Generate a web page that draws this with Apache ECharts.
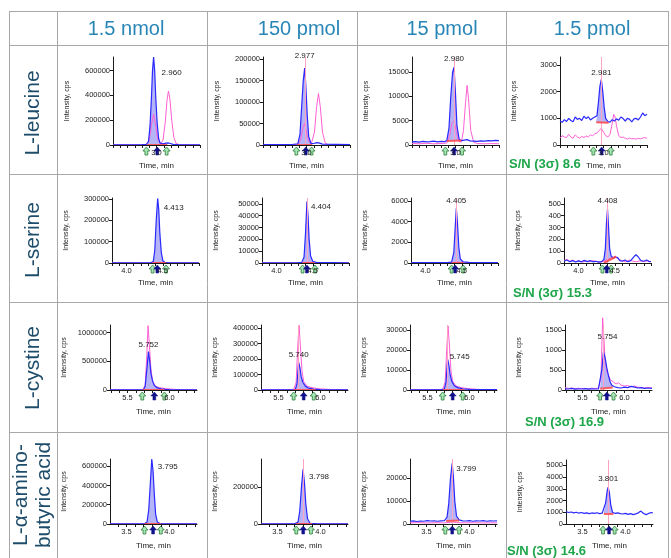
<!DOCTYPE html>
<html><head><meta charset="utf-8">
<script src="https://cdn.jsdelivr.net/npm/echarts@6/dist/echarts.min.js"></script>
<style>html,body{margin:0;padding:0;background:#fff}#c{width:671px;height:558px}</style>
</head><body><div id="c"></div>
<script>
// ---------------- DATA ----------------
const colHeaders = ['1.5 nmol', '150 pmol', '15 pmol', '1.5 pmol'];
const rowLabels = [['L-leucine'], ['L-serine'], ['L-cystine'], ['L-α-amino-', 'butyric acid']];
const snTexts = ['S/N (3σ) 8.6', 'S/N (3σ) 15.3', 'S/N (3σ) 16.9', 'S/N (3σ) 14.6'];

// L-leucine
const leuXRange = [2.4, 3.6];
const leuXTicks = [2.4, 2.5, 2.6, 2.7, 2.8, 2.9, 3.0, 3.1, 3.2, 3.3, 3.4, 3.5, 3.6];
const leuXLabels = [3.0];
const leuYMax = [710000, 205000, 18100, 3300];
const leuYTicks = [[0, 200000, 400000, 600000], [0, 50000, 100000, 150000, 200000], [0, 5000, 10000, 15000], [0, 1000, 2000, 3000]];
const leuRT = ['2.960', '2.977', '2.980', '2.981'];
const leuInt = [[2.87, 3.15, 2000, 2000], [2.87, 3.08, 1000, 1000], [2.88, 3.08, 800, 900], [2.90, 3.07, 850, 830]];
const leuArrows = [[2.86, 3.14, 3.01], [2.86, 3.07, 2.99], [2.86, 3.09, 2.98], [2.86, 3.10, 2.975]];
const leu1Blue = [[2.40,2000],[2.60,2000],[2.80,2500],[2.86,4000],[2.89,30000],[2.91,150000],[2.93,380000],[2.945,600000],[2.96,710000],[2.975,600000],[2.99,380000],[3.01,170000],[3.03,50000],[3.05,15000],[3.09,9000],[3.13,15000],[3.16,17000],[3.19,12000],[3.23,5000],[3.30,2500],[3.60,2000]];
const leu1Pink = [[2.40,1000],[2.86,1500],[2.90,40000],[2.93,160000],[2.96,250000],[2.99,150000],[3.02,40000],[3.06,10000],[3.09,40000],[3.12,180000],[3.145,360000],[3.165,436000],[3.185,370000],[3.21,200000],[3.24,60000],[3.27,12000],[3.32,2000],[3.60,1000]];
const leu2Blue = [[2.40,1000],[2.80,1200],[2.88,2500],[2.91,25000],[2.93,80000],[2.955,150000],[2.975,179000],[2.99,140000],[3.01,70000],[3.03,20000],[3.06,4000],[3.10,3500],[3.14,5500],[3.17,5000],[3.22,2000],[3.60,1000]];
const leu2Pink = [[2.40,500],[2.88,800],[2.92,12000],[2.95,40000],[2.975,50000],[3.00,30000],[3.03,8000],[3.07,5000],[3.11,30000],[3.14,90000],[3.165,120000],[3.19,90000],[3.22,30000],[3.26,4000],[3.30,800],[3.60,500]];
const leu3Blue = [[2.40,650],[2.45,700],[2.50,600],[2.55,750],[2.60,650],[2.65,700],[2.70,800],[2.75,650],[2.80,750],[2.85,700],[2.88,900],[2.91,3500],[2.935,10000],[2.96,15000],[2.98,16000],[3.00,10500],[3.02,4000],[3.05,1200],[3.08,900],[3.12,1000],[3.16,1100],[3.20,850],[3.25,800],[3.30,750],[3.35,850],[3.40,800],[3.45,900],[3.50,850],[3.55,950],[3.60,900]];
const leu3Pink = [[2.40,300],[2.50,250],[2.60,350],[2.70,250],[2.80,300],[2.88,400],[2.92,2000],[2.95,4500],[2.98,5000],[3.01,3000],[3.04,800],[3.08,600],[3.11,3000],[3.14,9000],[3.16,12250],[3.18,9500],[3.21,3000],[3.25,600],[3.30,300],[3.40,250],[3.50,300],[3.60,250]];
const leu4Blue = [[2.40,900],[2.43,850],[2.46,950],[2.49,880],[2.52,1000],[2.55,920],[2.58,870],[2.61,1050],[2.64,960],[2.67,1000],[2.70,920],[2.73,1080],[2.76,990],[2.79,1060],[2.82,940],[2.85,1000],[2.88,1050],[2.91,1100],[2.93,1600],[2.95,2200],[2.97,2460],[2.99,2000],[3.01,1400],[3.03,1000],[3.06,880],[3.09,860],[3.12,950],[3.15,900],[3.18,980],[3.21,930],[3.24,1050],[3.27,990],[3.30,900],[3.33,1000],[3.36,960],[3.39,870],[3.42,980],[3.45,1000],[3.48,940],[3.51,1050],[3.54,1200],[3.57,1100],[3.60,1150]];
const leu4Pink = [[2.40,250],[2.43,350],[2.46,300],[2.49,280],[2.52,400],[2.55,300],[2.58,250],[2.61,380],[2.64,300],[2.67,260],[2.70,320],[2.73,280],[2.76,340],[2.79,300],[2.82,380],[2.85,350],[2.88,420],[2.91,450],[2.94,550],[2.97,620],[3.00,480],[3.03,350],[3.06,300],[3.09,400],[3.12,800],[3.14,1150],[3.16,1050],[3.18,700],[3.21,350],[3.24,280],[3.27,300],[3.30,250],[3.33,220],[3.36,260],[3.39,230],[3.42,240],[3.45,220],[3.48,250],[3.51,230],[3.54,260],[3.57,280],[3.60,250]];

// L-serine
const serXRange = [3.8, 5.0];
const serXTicks = [3.8, 3.9, 4.0, 4.1, 4.2, 4.3, 4.4, 4.5, 4.6, 4.7, 4.8, 4.9, 5.0];
const serXLabels = [4.0, 4.5];
const serYMax = [305000, 55000, 6300, 550];
const serYTicks = [[0, 100000, 200000, 300000], [0, 10000, 20000, 30000, 40000, 50000], [0, 2000, 4000, 6000], [0, 100, 200, 300, 400, 500]];
const serRT = ['4.413', '4.404', '4.405', '4.408'];
const serInt = [[4.36, 4.55, 800, 800], [4.36, 4.52, 300, 300], [4.36, 4.52, 40, 60], [4.35, 4.52, 0, 55]];
const serArrows = [[4.36, 4.545, 4.425], [4.36, 4.53, 4.42], [4.36, 4.52, 4.41], [4.33, 4.45, 4.39]];
const ser1Blue = [[3.80,800],[4.20,800],[4.34,1000],[4.37,8000],[4.39,60000],[4.41,200000],[4.43,303000],[4.445,250000],[4.46,140000],[4.48,50000],[4.50,12000],[4.53,3000],[4.58,1200],[5.00,800]];
const ser1Pink = [[3.80,300],[4.38,400],[4.42,3000],[4.46,1500],[4.52,400],[5.00,300]];
const ser2Blue = [[3.80,200],[4.30,300],[4.35,600],[4.38,5000],[4.40,25000],[4.42,52000],[4.435,40000],[4.45,20000],[4.47,6000],[4.50,1500],[4.55,500],[5.00,200]];
const ser2Pink = [[3.80,100],[4.40,300],[4.43,1000],[4.47,300],[5.00,100]];
const ser3Blue = [[3.80,30],[4.30,40],[4.36,80],[4.39,1000],[4.41,3500],[4.425,5300],[4.44,4000],[4.46,1500],[4.48,400],[4.52,100],[4.60,60],[5.00,40]];
const ser3Pink = [[3.80,20],[4.40,40],[4.43,150],[4.47,40],[5.00,20]];
const ser4Blue = [[3.80,15],[3.84,25],[3.88,10],[3.92,20],[3.96,8],[4.00,18],[4.04,10],[4.08,22],[4.12,12],[4.16,20],[4.20,10],[4.24,15],[4.28,8],[4.32,12],[4.35,30],[4.37,120],[4.385,330],[4.40,457],[4.415,300],[4.43,120],[4.45,60],[4.48,40],[4.51,50],[4.54,45],[4.57,20],[4.60,15],[4.64,25],[4.68,10],[4.72,20],[4.76,50],[4.79,70],[4.82,55],[4.86,20],[4.90,15],[4.94,25],[4.98,10],[5.00,15]];
const ser4Pink = [[3.80,20],[3.84,30],[3.88,15],[3.92,25],[3.96,10],[4.00,20],[4.05,8],[4.10,15],[4.15,10],[4.20,20],[4.25,12],[4.30,8],[4.35,15],[4.40,30],[4.45,40],[4.50,55],[4.55,35],[4.60,20],[4.65,10],[4.70,25],[4.75,15],[4.80,10],[4.85,20],[4.90,12],[4.95,18],[5.00,10]];

// L-cystine
const cysXRange = [5.29, 6.33];
const cysXTicks = [5.3, 5.4, 5.5, 5.6, 5.7, 5.8, 5.9, 6.0, 6.1, 6.2, 6.3];
const cysXLabels = [5.5, 6.0];
const cysYMax = [1130000, 420000, 32500, 1620];
const cysYTicks = [[0, 500000, 1000000], [0, 100000, 200000, 300000, 400000], [0, 10000, 20000, 30000], [0, 500, 1000, 1500]];
const cysRT = ['5.752', '5.740', '5.745', '5.754'];
const cysInt = [[5.68, 5.94, 2000, 2000], [5.68, 5.94, 1000, 1000], [5.68, 5.94, 150, 150], [5.71, 5.86, 30, 60]];
const cysArrows = [[5.676, 5.94, 5.82], [5.68, 5.92, 5.80], [5.68, 5.92, 5.80], [5.71, 5.87, 5.79]];
const cys1Blue = [[5.29,2000],[5.65,2000],[5.69,5000],[5.71,60000],[5.73,350000],[5.75,667000],[5.765,500000],[5.78,280000],[5.80,150000],[5.82,80000],[5.85,40000],[5.90,20000],[5.95,10000],[6.00,5000],[6.33,2000]];
const cys1Pink = [[5.29,2000],[5.68,3000],[5.71,80000],[5.73,600000],[5.745,1120000],[5.76,800000],[5.78,350000],[5.80,150000],[5.83,70000],[5.88,40000],[5.95,25000],[6.05,12000],[6.15,5000],[6.33,3000]];
const cys2Blue = [[5.29,1000],[5.66,1000],[5.70,3000],[5.72,40000],[5.74,180000],[5.755,145000],[5.77,88000],[5.79,50000],[5.82,25000],[5.86,12000],[5.92,6000],[6.00,3000],[6.33,1000]];
const cys2Pink = [[5.29,1000],[5.68,1500],[5.71,50000],[5.73,290000],[5.745,418000],[5.76,290000],[5.78,125000],[5.80,55000],[5.84,25000],[5.90,15000],[5.98,8000],[6.10,4000],[6.33,1500]];
const cys3Blue = [[5.29,100],[5.66,150],[5.70,400],[5.72,3800],[5.74,15500],[5.755,12500],[5.77,7500],[5.79,4300],[5.82,2100],[5.86,1200],[5.92,600],[6.00,300],[6.33,150]];
const cys3Pink = [[5.29,100],[5.68,200],[5.71,4000],[5.73,21000],[5.745,32000],[5.76,23000],[5.78,9500],[5.80,4300],[5.84,2000],[5.90,1200],[5.98,700],[6.10,300],[6.33,150]];
const cys4Blue = [[5.29,30],[5.33,25],[5.37,40],[5.41,20],[5.45,30],[5.49,25],[5.53,35],[5.57,20],[5.61,30],[5.65,25],[5.69,30],[5.71,60],[5.73,500],[5.75,950],[5.77,800],[5.79,550],[5.81,350],[5.83,200],[5.85,120],[5.88,80],[5.92,60],[5.96,50],[6.00,70],[6.04,60],[6.08,90],[6.12,70],[6.16,50],[6.20,60],[6.24,40],[6.28,50],[6.33,40]];
const cys4Pink = [[5.29,60],[5.33,40],[5.37,50],[5.41,30],[5.45,45],[5.49,35],[5.53,40],[5.57,30],[5.61,45],[5.65,35],[5.69,50],[5.72,300],[5.74,1800],[5.755,1300],[5.77,700],[5.79,450],[5.81,380],[5.83,260],[5.85,300],[5.87,200],[5.90,150],[5.93,180],[5.96,120],[6.00,100],[6.04,110],[6.08,80],[6.12,100],[6.16,70],[6.20,60],[6.24,50],[6.28,60],[6.33,50]];

// L-alpha-aminobutyric acid
const abuXRange = [3.31, 4.32];
const abuXTicks = [3.4, 3.5, 3.6, 3.7, 3.8, 3.9, 4.0, 4.1, 4.2, 4.3];
const abuXLabels = [3.5, 4.0];
const abuYMax = [675000, 350000, 28400, 5450];
const abuYTicks = [[0, 200000, 400000, 600000], [0, 200000], [0, 10000, 20000], [0, 1000, 2000, 3000, 4000, 5000]];
const abuRT = ['3.795', '3.798', '3.799', '3.801'];
const abuInt = [[3.71, 3.90, 1500, 1500], [3.72, 3.90, 1000, 1000], [3.73, 3.88, 1300, 1500], [3.75, 3.86, 900, 900]];
const abuArrows = [[3.71, 3.90, 3.81], [3.72, 3.89, 3.80], [3.72, 3.88, 3.80], [3.74, 3.875, 3.81]];
const abu1Blue = [[3.31,1500],[3.65,1500],[3.71,2500],[3.74,20000],[3.76,150000],[3.78,450000],[3.795,675000],[3.81,550000],[3.825,300000],[3.84,100000],[3.86,20000],[3.89,4000],[3.95,2000],[4.32,1500]];
const abu1Pink = [[3.31,500],[3.76,800],[3.80,2500],[3.84,800],[4.32,500]];
const abu2Blue = [[3.31,1000],[3.70,1200],[3.74,10000],[3.76,70000],[3.78,200000],[3.798,295000],[3.815,220000],[3.83,110000],[3.85,28000],[3.88,4000],[3.95,1500],[4.32,1000]];
const abu2Pink = [[3.31,300],[3.78,500],[3.80,1500],[3.83,500],[4.32,300]];
const abu3Blue = [[3.31,1200],[3.35,1400],[3.39,1100],[3.43,1300],[3.47,1200],[3.51,1500],[3.55,1300],[3.59,1400],[3.63,1200],[3.67,1350],[3.71,1500],[3.74,3000],[3.76,9000],[3.78,20000],[3.80,26500],[3.815,20000],[3.83,10000],[3.85,3500],[3.88,1800],[3.92,1400],[3.96,1300],[4.00,1500],[4.04,1200],[4.08,1400],[4.12,1300],[4.16,1500],[4.20,1200],[4.24,1400],[4.28,1300],[4.32,1400]];
const abu3Pink = [[3.31,500],[3.40,600],[3.50,450],[3.60,550],[3.70,500],[3.78,700],[3.81,900],[3.85,600],[3.95,500],[4.05,550],[4.15,450],[4.25,500],[4.32,480]];
const abu4Blue = [[3.31,1050],[3.34,980],[3.37,1020],[3.40,950],[3.43,1000],[3.46,920],[3.49,980],[3.52,900],[3.55,950],[3.58,880],[3.61,940],[3.64,900],[3.67,960],[3.70,880],[3.73,920],[3.75,1000],[3.77,1800],[3.79,2900],[3.80,3130],[3.815,2600],[3.83,1600],[3.85,1000],[3.88,900],[3.91,950],[3.94,880],[3.97,850],[4.00,900],[4.03,820],[4.06,880],[4.09,800],[4.12,860],[4.15,950],[4.18,1100],[4.21,900],[4.24,800],[4.27,900],[4.30,980],[4.32,940]];
const abu4Pink = [];

// ---------------- LAYOUT / STYLE ----------------
const FONT = '"Liberation Sans", Arial, sans-serif';
const BLUE = '#2a2aff', PINK = '#ff5fd2', FILL = 'rgba(105,105,240,0.5)';
const GRID_LEFT = [[113, 263, 412, 560], [112, 262, 411, 564], [110, 261, 410, 565], [110, 261, 410, 566]];
const GRID_TOP = [57, 198, 325, 459];
const GRID_H = [88, 65, 65, 65];
const GRID_W = 87;
const XNAME_GAP = [17, 16, 18, 18];
const LABEL_OFF = [[[18, 16], [0, -12], [0, -8], [0, -7]], [[16, 9], [14, 5], [0, -8], [0, -8]], [[0, -7], [0, -7], [12, -2], [4, -15]], [[16, 8], [16, 8], [14, 5], [0, -8]]];
const SN_POS = [[509, 164], [513, 293], [525, 422], [507, 551]];
const HEADER_X = [126, 299, 442, 592];
const ROW_Y = [113, 240, 368, 495];

const rows = [
  {x: leuXRange, xt: leuXTicks, xl: leuXLabels, yMax: leuYMax, yt: leuYTicks, rt: leuRT, integ: leuInt, arr: leuArrows, blue: [leu1Blue, leu2Blue, leu3Blue, leu4Blue], pink: [leu1Pink, leu2Pink, leu3Pink, leu4Pink]},
  {x: serXRange, xt: serXTicks, xl: serXLabels, yMax: serYMax, yt: serYTicks, rt: serRT, integ: serInt, arr: serArrows, blue: [ser1Blue, ser2Blue, ser3Blue, ser4Blue], pink: [ser1Pink, ser2Pink, ser3Pink, ser4Pink]},
  {x: cysXRange, xt: cysXTicks, xl: cysXLabels, yMax: cysYMax, yt: cysYTicks, rt: cysRT, integ: cysInt, arr: cysArrows, blue: [cys1Blue, cys2Blue, cys3Blue, cys4Blue], pink: [cys1Pink, cys2Pink, cys3Pink, cys4Pink]},
  {x: abuXRange, xt: abuXTicks, xl: abuXLabels, yMax: abuYMax, yt: abuYTicks, rt: abuRT, integ: abuInt, arr: abuArrows, blue: [abu1Blue, abu2Blue, abu3Blue, abu4Blue], pink: [abu1Pink, abu2Pink, abu3Pink, abu4Pink]}
];

const ARROW = 'path://M5,0 L10,5 L7,5 L7,10 L3,10 L3,5 L0,5 Z';
const option = {animation: false, textStyle: {fontFamily: FONT}, grid: [], xAxis: [], yAxis: [], series: [], graphic: []};

rows.forEach((R, r) => {
  for (let c = 0; c < 4; c++) {
    const i = r * 4 + c;
    const blue = R.blue[c], pink = R.pink[c];
    const [s, e, b1, b2] = R.integ[c];
    let peak = blue[0];
    blue.forEach(p => { if (p[1] > peak[1]) peak = p; });

    option.grid.push({left: GRID_LEFT[r][c], top: GRID_TOP[r] + (r === 3 && c === 3 ? 1 : 0), width: GRID_W, height: GRID_H[r] - (r === 3 && c === 3 ? 1 : 0)});
    option.xAxis.push({
      type: 'value', gridIndex: i, min: R.x[0], max: R.x[1], splitLine: {show: false}, z: 6,
      axisLine: {show: true, onZero: false, lineStyle: {color: '#1a1a1a', width: 1}},
      axisTick: {show: true, customValues: R.xt, length: 3, lineStyle: {color: '#1a1a1a'}},
      axisLabel: {show: true, customValues: R.xl, formatter: v => Number(v).toFixed(1), fontSize: 7.5, color: '#222', margin: 4, fontFamily: FONT},
      name: 'Time, min', nameLocation: 'middle', nameGap: XNAME_GAP[r], nameTextStyle: {fontSize: 8, color: '#222', fontFamily: FONT}
    });
    option.yAxis.push({
      type: 'value', gridIndex: i, min: 0, max: R.yMax[c], splitLine: {show: false},
      axisLine: {show: true, lineStyle: {color: '#1a1a1a', width: 1}},
      axisTick: {show: true, customValues: R.yt[c], length: 3, lineStyle: {color: '#1a1a1a'}},
      axisLabel: {show: true, customValues: R.yt[c], formatter: v => String(v), fontSize: 7.5, color: '#222', margin: 3, fontFamily: FONT},
      name: 'Intensity, cps', nameLocation: 'middle', nameGap: 42, nameTextStyle: {fontSize: 7, color: '#222', fontFamily: FONT}
    });

    // integrated peak area, drawn through the axes' scales
    const inRange = blue.filter(p => p[0] >= s && p[0] <= e);
    option.series.push({
      type: 'custom', xAxisIndex: i, yAxisIndex: i, silent: true, z: 1,
      data: [[s, b1]],
      renderItem: (params, api) => {
        const pts = inRange.map(p => api.coord([p[0], p[1]]));
        pts.push(api.coord([e, b2]));
        pts.push(api.coord([s, b1]));
        return {type: 'polygon', shape: {points: pts}, style: {fill: FILL}};
      }
    });

    // second trace (pink) + cursor
    option.series.push({
      type: 'line', xAxisIndex: i, yAxisIndex: i, data: pink, symbol: 'none', silent: true, clip: false,
      lineStyle: {color: PINK, width: 1}, z: 3,
      markLine: c > 0 ? {silent: true, symbol: 'none', label: {show: false}, lineStyle: {color: '#ffa3c2', width: 1, type: 'solid'}, data: [{xAxis: peak[0]}]} : undefined
    });

    // main trace (blue)
    const a = R.arr[c];
    const g = {color: '#a6e6b4', borderColor: '#2e7d3a', borderWidth: 0.8};
    option.series.push({
      type: 'line', xAxisIndex: i, yAxisIndex: i, data: blue, symbol: 'none', silent: true, clip: false,
      lineStyle: {color: BLUE, width: 1.2}, z: 4,
      markLine: {silent: true, symbol: 'none', label: {show: false},
        data: [[{coord: [s, b1], lineStyle: {color: 'rgba(255,70,70,0.85)', width: 2, type: 'solid'}}, {coord: [e, b2]}]]},
      markPoint: {silent: true, data: [
        {coord: [a[0], 0], symbol: ARROW, symbolSize: [7, 8], symbolOffset: [0, 6], itemStyle: g, label: {show: false}},
        {coord: [a[1], 0], symbol: ARROW, symbolSize: [7, 8], symbolOffset: [0, 6], itemStyle: g, label: {show: false}},
        {coord: [a[2], 0], symbol: ARROW, symbolSize: [7, 8], symbolOffset: [0, 6], itemStyle: {color: '#10108a', borderColor: '#10108a', borderWidth: 0.5}, label: {show: false}},
        {coord: [peak[0], peak[1]], symbol: 'circle', symbolSize: 1, itemStyle: {color: 'rgba(0,0,0,0)'},
          label: {show: true, formatter: R.rt[c], position: 'inside', offset: LABEL_OFF[r][c], fontSize: 8, color: '#222', fontFamily: FONT}}
      ]}
    });
  }
});

// table lines
const LINE = '#a8a8a8';
const hLines = [11, 45, 174, 302, 432];
const vLines = [9, 57, 207, 357, 506, 668];
hLines.forEach(y => option.graphic.push({type: 'line', silent: true, shape: {x1: 9, y1: y + 0.5, x2: 669, y2: y + 0.5}, style: {stroke: LINE, lineWidth: 1}}));
vLines.forEach(x => option.graphic.push({type: 'line', silent: true, shape: {x1: x + 0.5, y1: 11, x2: x + 0.5, y2: 558}, style: {stroke: LINE, lineWidth: 1}}));

// headers
colHeaders.forEach((t, k) => option.graphic.push({type: 'text', silent: true, x: HEADER_X[k], y: 29,
  style: {text: t, fontSize: 20, fontFamily: FONT, fill: '#2886b6', align: 'center', verticalAlign: 'middle'}}));

// row labels
rowLabels.forEach((lines, k) => {
  const n = lines.length;
  lines.forEach((t, j) => {
    const x = 33 + (j - (n - 1) / 2) * 23;
    option.graphic.push({type: 'text', silent: true, x: x, y: ROW_Y[k], rotation: Math.PI / 2,
      style: {text: t, fontSize: 21, fontFamily: FONT, fill: '#1e4d6b', align: 'center', verticalAlign: 'middle'}});
  });
});

// S/N texts
snTexts.forEach((t, k) => option.graphic.push({type: 'text', silent: true, x: SN_POS[k][0], y: SN_POS[k][1],
  style: {text: t, fontSize: 13, fontWeight: 'bold', fontFamily: FONT, fill: '#1ea64a', align: 'left', verticalAlign: 'middle'}}));

const chart = echarts.init(document.getElementById('c'), null, {renderer: 'canvas'});
chart.setOption(option);
</script></body></html>
